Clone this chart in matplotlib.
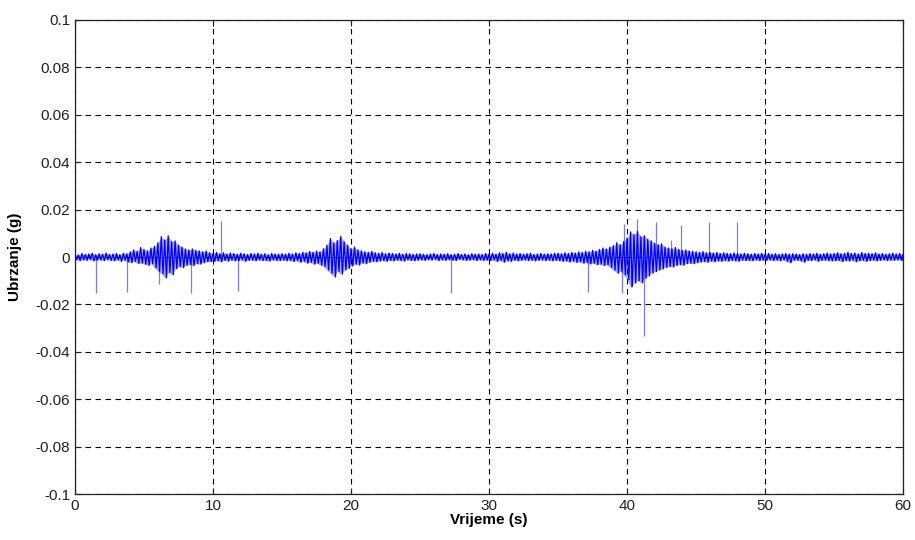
"""Acceleration record (MATLAB-style): Ubrzanje vs Vrijeme."""

import matplotlib
matplotlib.use("Agg")
import matplotlib.pyplot as plt
import numpy as np

plt.rcParams["font.family"] = ["Liberation Sans", "DejaVu Sans"]

# Envelope of the dense trace, read every 0.25 s from 0 to 60 s (values in mg)
upper_mg = [
    1.2, 0.9, 1.5, 1.1, 1.3, 1.6, 1.0, 1.4, 1.2, 1.7, 1.1, 1.3, 1.5, 1.0, 1.6, 1.4, 2.2, 3.0, 2.4, 4.0,
    3.2, 2.6, 3.8, 4.5, 6.0, 8.6, 7.2, 9.0, 6.5, 6.8, 5.0, 4.2, 3.4, 3.0, 3.4, 2.8, 2.6, 2.2, 2.5, 1.8,
    1.6, 2.0, 1.4, 1.8, 1.3, 1.7, 1.5, 1.2, 1.6, 1.4, 1.1, 1.5, 1.3, 1.6, 1.2, 1.4, 1.0, 1.5, 1.3, 1.2,
    1.4, 1.2, 1.6, 1.3, 1.8, 1.5, 2.0, 1.8, 2.4, 2.0, 2.5, 2.2, 3.5, 5.0, 7.8, 6.0, 7.0, 8.7, 6.5, 5.0,
    3.5, 4.2, 3.0, 2.6, 2.2, 2.0, 2.4, 1.8, 1.6, 1.9, 1.4, 1.7, 1.5, 1.3, 1.6, 1.2, 1.5, 1.4, 1.1, 1.3,
    1.4, 1.2, 1.0, 1.3, 1.5, 1.1, 1.3, 1.2, 1.4, 1.0, 1.2, 1.5, 1.1, 1.3, 1.0, 1.4, 1.2, 1.3, 1.1, 1.5,
    1.3, 1.6, 1.2, 1.8, 1.5, 2.0, 1.4, 1.7, 1.3, 1.5, 1.2, 1.4, 1.6, 1.1, 1.3, 1.5, 1.2, 1.4, 1.3, 1.6,
    1.6, 1.4, 1.8, 1.5, 2.0, 1.7, 2.2, 1.9, 2.4, 2.2, 2.8, 2.5, 3.2, 3.8, 3.4, 4.2, 4.8, 6.0, 5.2, 6.5,
    8.0, 10.6, 9.5, 10.8, 8.6, 9.0, 7.5, 6.8, 5.8, 5.2, 5.6, 4.2, 3.8, 3.5, 4.0, 3.2, 2.8, 3.0, 2.6, 2.4,
    2.2, 2.0, 2.3, 1.8, 2.0, 1.7, 1.9, 1.5, 1.8, 1.6, 1.4, 1.7, 1.5, 1.3, 1.6, 1.4, 1.2, 1.5, 1.3, 1.6,
    1.3, 1.5, 1.2, 1.4, 1.1, 1.3, 1.5, 1.2, 1.4, 1.3, 1.1, 1.4, 1.2, 1.5, 1.3, 1.6, 1.2, 1.4, 1.7, 1.3,
    1.5, 1.8, 1.4, 1.6, 2.0, 1.5, 1.7, 1.3, 1.9, 1.5, 1.6, 1.4, 1.8, 1.3, 1.5, 1.2, 1.4, 1.6, 1.3, 1.5,
    1.2,
]
lower_mg = [
    -1.1, -1.5, -1.2, -1.4, -1.0, -1.6, -1.3, -1.2, -1.5, -1.1, -1.4, -1.6, -1.2, -1.8, -1.3, -2.0, -2.4, -1.8, -2.7, -2.5,
    -3.0, -3.5, -2.8, -4.5, -6.0, -7.0, -8.8, -6.5, -7.5, -5.0, -4.0, -4.5, -3.5, -3.2, -3.6, -2.8, -3.0, -2.4, -2.0, -1.9,
    -1.8, -1.5, -2.0, -1.4, -1.7, -1.3, -1.6, -1.5, -1.2, -1.8, -1.4, -1.3, -1.6, -1.2, -1.5, -1.4, -1.7, -1.2, -1.4, -1.5,
    -1.3, -1.6, -1.4, -1.9, -1.5, -2.2, -1.8, -2.6, -2.2, -3.0, -2.6, -3.4, -4.0, -5.5, -6.8, -8.4, -6.0, -7.2, -5.5, -4.8,
    -3.8, -3.0, -3.4, -2.5, -2.8, -2.2, -1.8, -2.0, -1.7, -1.5, -1.8, -1.4, -1.6, -1.3, -1.5, -1.7, -1.2, -1.4, -1.6, -1.3,
    -1.2, -1.4, -1.1, -1.3, -1.0, -1.5, -1.2, -1.4, -1.1, -1.3, -1.5, -1.0, -1.2, -1.4, -1.3, -1.1, -1.5, -1.2, -1.4, -1.3,
    -1.5, -1.2, -1.9, -1.4, -2.2, -1.6, -1.8, -1.3, -1.6, -1.4, -1.2, -1.5, -1.3, -1.6, -1.4, -1.2, -1.5, -1.3, -1.6, -1.4,
    -1.5, -1.8, -1.6, -2.1, -1.7, -2.3, -2.0, -2.6, -2.3, -2.9, -2.6, -3.2, -3.0, -3.6, -3.3, -4.4, -5.5, -6.8, -6.0, -7.5,
    -9.5, -12.5, -11.0, -10.0, -10.8, -9.0, -8.0, -6.8, -6.2, -5.5, -5.0, -4.4, -4.0, -4.2, -3.6, -3.2, -3.5, -2.8, -2.6, -2.8,
    -2.4, -2.1, -1.9, -2.2, -1.7, -2.0, -1.6, -1.8, -1.5, -1.7, -1.4, -1.6, -1.8, -1.3, -1.5, -1.4, -1.6, -1.2, -1.5, -1.3,
    -1.4, -1.2, -1.5, -1.3, -1.6, -1.2, -1.8, -2.4, -1.4, -1.3, -1.6, -2.2, -1.4, -1.5, -1.2, -1.8, -1.4, -1.3, -1.5, -1.6,
    -1.6, -1.4, -1.9, -1.5, -1.7, -1.3, -2.0, -1.6, -1.4, -1.8, -1.5, -1.3, -1.6, -1.4, -1.2, -1.5, -1.3, -1.4, -1.2, -1.3,
    -1.4,
]

# Isolated single-sample spikes (time s, value mg)
spike_t = [1.5, 3.75, 6.05, 8.4, 10.58, 11.79, 27.23, 37.2, 39.6, 39.77,
           40.3, 40.7, 41.2, 42.07, 43.2, 43.9, 45.9, 48.0]
spike_mg = [-15.1, -14.8, -11.4, -15.0, 15.3, -14.2, -15.0, -14.6, -15.0, 14.0,
            -12.5, 16.0, -33.3, 14.9, 7.2, 13.5, 14.9, 14.9]

x_ticks = [0, 10, 20, 30, 40, 50, 60]
y_ticks = [-0.1, -0.08, -0.06, -0.04, -0.02, 0, 0.02, 0.04, 0.06, 0.08, 0.1]
y_labels = ["-0.1", "-0.08", "-0.06", "-0.04", "-0.02", "0",
            "0.02", "0.04", "0.06", "0.08", "0.1"]


def main() -> None:
    hi = np.array(upper_mg) / 1000.0
    lo = np.array(lower_mg) / 1000.0
    t = np.linspace(0, 60, len(hi))
    half = (t[1] - t[0]) / 2

    fig = plt.figure(figsize=(9.15, 5.4), dpi=100)
    ax = fig.add_axes([0.082, 0.085, 0.905, 0.878])

    ax.grid(True, color="black", ls=(0, (5, 4)), lw=0.8, zorder=0)

    # dense trace: pale band between the read envelopes, zig-zag on top
    ax.fill_between(t, lo, hi, color="#0000ff", lw=0, alpha=0.35, zorder=2)
    zx = np.column_stack([t, np.minimum(t + half, 60)]).ravel()
    zy = np.column_stack([hi, lo]).ravel()
    ax.plot(zx, zy, color="#0000ff", lw=0.9, zorder=3)

    ax.vlines(spike_t, 0, np.array(spike_mg) / 1000.0,
              color="#4040ff", lw=0.9, alpha=0.7, zorder=2)

    ax.set_xlim(0, 60)
    ax.set_ylim(-0.1, 0.1)
    ax.set_xticks(x_ticks)
    ax.set_yticks(y_ticks)
    ax.set_yticklabels(y_labels)
    ax.tick_params(direction="in", top=True, right=True, length=4,
                   labelsize=11, colors="#222222", width=0.8)
    for sp in ax.spines.values():
        sp.set_linewidth(0.9)
        sp.set_color("#222222")

    ax.set_xlabel("Vrijeme (s)", fontsize=11, fontweight="bold", labelpad=0)
    ax.set_ylabel("Ubrzanje (g)", fontsize=11, fontweight="bold", labelpad=10)

    fig.savefig("out.png", dpi=100)


if __name__ == "__main__":
    main()
